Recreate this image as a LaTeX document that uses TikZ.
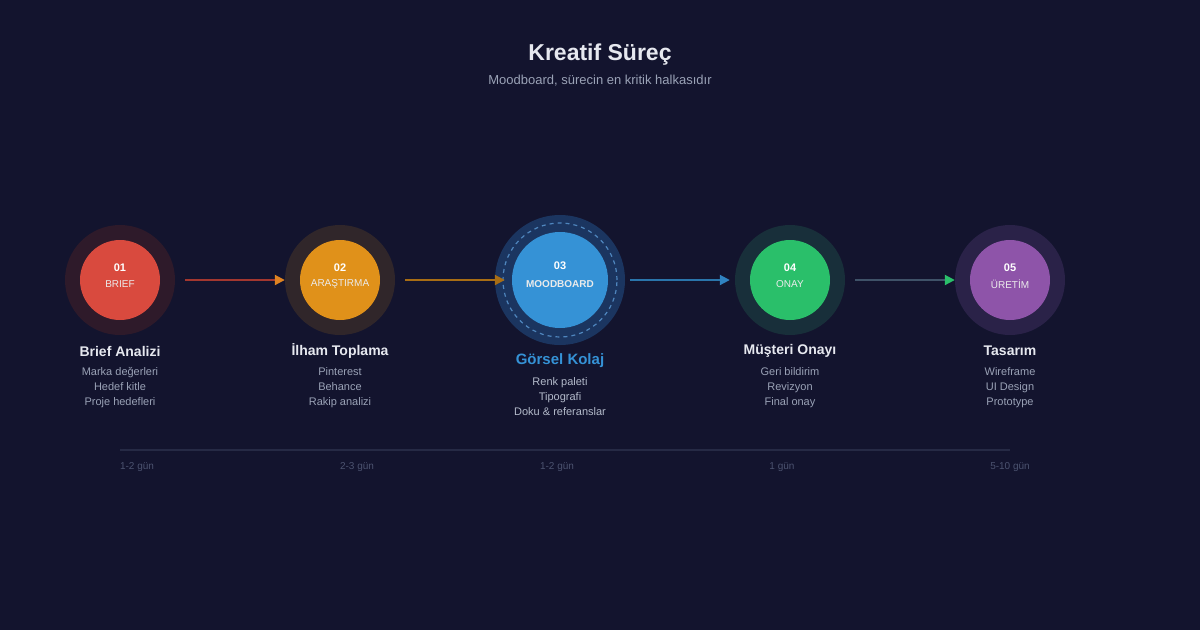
\documentclass[tikz,border=0pt]{standalone}
\usepackage{fontspec}
\setmainfont{Liberation Sans}
\usetikzlibrary{positioning,arrows.meta}

\definecolor{bgmain}{HTML}{13142E}
\definecolor{cred}{HTML}{D94A3E}
\definecolor{cora}{HTML}{E0911A}
\definecolor{cblu}{HTML}{3592D6}
\definecolor{cgrn}{HTML}{2ABF6A}
\definecolor{cpur}{HTML}{8E54A9}
\definecolor{hred}{HTML}{2E1A2A}
\definecolor{hora}{HTML}{30262A}
\definecolor{hblu}{HTML}{1B3560}
\definecolor{hgrn}{HTML}{182F3A}
\definecolor{hpur}{HTML}{2A2248}
\definecolor{ringblu}{HTML}{4F86BE}
\definecolor{flowgry}{HTML}{3F5268}
\definecolor{txtmain}{HTML}{E6E8EF}
\definecolor{txtsub}{HTML}{9AA2B6}
\definecolor{txtmid}{HTML}{B3BACA}
\definecolor{txtdim}{HTML}{4C5370}
\definecolor{tline}{HTML}{262A45}

\begin{document}
\begin{tikzpicture}[
  x=1pt,y=-1pt,
  every node/.style={inner sep=0pt},
  halo/.style={circle,fill=#1,minimum size=110pt},
  dot/.style={circle,fill=#1,minimum size=80pt},
  num/.style={font=\bfseries\fontsize{11}{13}\selectfont,text=white},
  tag/.style={font=\fontsize{10}{12}\selectfont,text=white!92!black},
  ttl/.style={font=\bfseries\fontsize{14}{17}\selectfont,text=txtmain},
  sub/.style={font=\fontsize{11}{15}\selectfont,text=txtsub,align=center},
  days/.style={font=\fontsize{10}{12}\selectfont,text=txtdim},
  flow/.style={draw=#1,line width=2pt},
]

% background
\fill[bgmain] (0,0) rectangle (1200,630);

% heading
\node[font=\bfseries\fontsize{23}{27}\selectfont,text=txtmain] (title) at (600,55) {Kreatif Süreç};
\node[font=\fontsize{13}{16}\selectfont,text=txtsub] (subtitle) at (600,81) {Moodboard, sürecin en kritik halkasıdır};

% step 1
\node[halo=hred] (h1) at (120,280) {};
\node[dot=cred] (c1) at (120,280) {};
\node[num] (n1) at (120,268) {01};
\node[tag] (t1) at (120,284) {BRIEF};
\node[ttl] (l1) at (120,351) {Brief Analizi};
\node[sub] (s1) at (120,388) {Marka değerleri\\Hedef kitle\\Proje hedefleri};

% step 2
\node[halo=hora] (h2) at (340,280) {};
\node[dot=cora] (c2) at (340,280) {};
\node[num] (n2) at (340,268) {02};
\node[tag] (t2) at (340,284) {ARAŞTIRMA};
\node[ttl] (l2) at (340,351) {İlham Toplama};
\node[sub] (s2) at (340,388) {Pinterest\\Behance\\Rakip analizi};

% step 3 (moodboard, highlighted)
\node[halo=hblu,minimum size=130pt] (h3) at (560,280) {};
\node[circle,draw=ringblu,line width=1.2pt,dash pattern=on 4pt off 4pt,minimum size=114pt] (r3) at (560,280) {};
\node[dot=cblu,minimum size=96pt] (c3) at (560,280) {};
\node[num] (n3) at (560,266) {03};
\node[tag,font=\bfseries\fontsize{10}{12}\selectfont] (t3) at (560,284) {MOODBOARD};
\node[ttl,text=cblu,font=\bfseries\fontsize{15}{18}\selectfont] (l3) at (560,361) {Görsel Kolaj};
\node[sub,text=txtmid] (s3) at (560,397) {Renk paleti\\Tipografi\\Doku \& referanslar};

% step 4
\node[halo=hgrn] (h4) at (790,280) {};
\node[dot=cgrn] (c4) at (790,280) {};
\node[num] (n4) at (790,268) {04};
\node[tag] (t4) at (790,284) {ONAY};
\node[ttl] (l4) at (790,351) {Müşteri Onayı};
\node[sub] (s4) at (790,388) {Geri bildirim\\Revizyon\\Final onay};

% step 5
\node[halo=hpur] (h5) at (1010,280) {};
\node[dot=cpur] (c5) at (1010,280) {};
\node[num] (n5) at (1010,268) {05};
\node[tag] (t5) at (1010,284) {ÜRETİM};
\node[ttl] (l5) at (1010,351) {Tasarım};
\node[sub] (s5) at (1010,388) {Wireframe\\UI Design\\Prototype};

% connectors
\draw[flow=cred!75!black,-{Triangle[length=10pt,width=10pt,color=cora!80!cred]},shorten <=10pt] (h1) -- (h2);
\draw[flow=cora!75!black,-{Triangle[length=10pt,width=10pt,color=cora!75!black]},shorten <=10pt,shorten >=-10pt] (h2) -- (h3);
\draw[flow=cblu!80!black,-{Triangle[length=10pt,width=10pt,color=cblu!90!black]},shorten <=5pt,shorten >=5pt] (h3) -- (h4);
\draw[flow=flowgry,-{Triangle[length=10pt,width=10pt,color=cgrn]},shorten <=10pt] (h4) -- (h5);

% timeline
\coordinate (tl) at (120,450);
\coordinate (tr) at (1010,450);
\draw[tline,line width=1.5pt] (tl) -- (tr);
\node[days] (d1) at (137,467) {1-2 gün};
\node[days] (d2) at (357,467) {2-3 gün};
\node[days] (d3) at (557,467) {1-2 gün};
\node[days] (d4) at (782,467) {1 gün};
\node[days] (d5) at (1010,467) {5-10 gün};

\end{tikzpicture}
\end{document}
